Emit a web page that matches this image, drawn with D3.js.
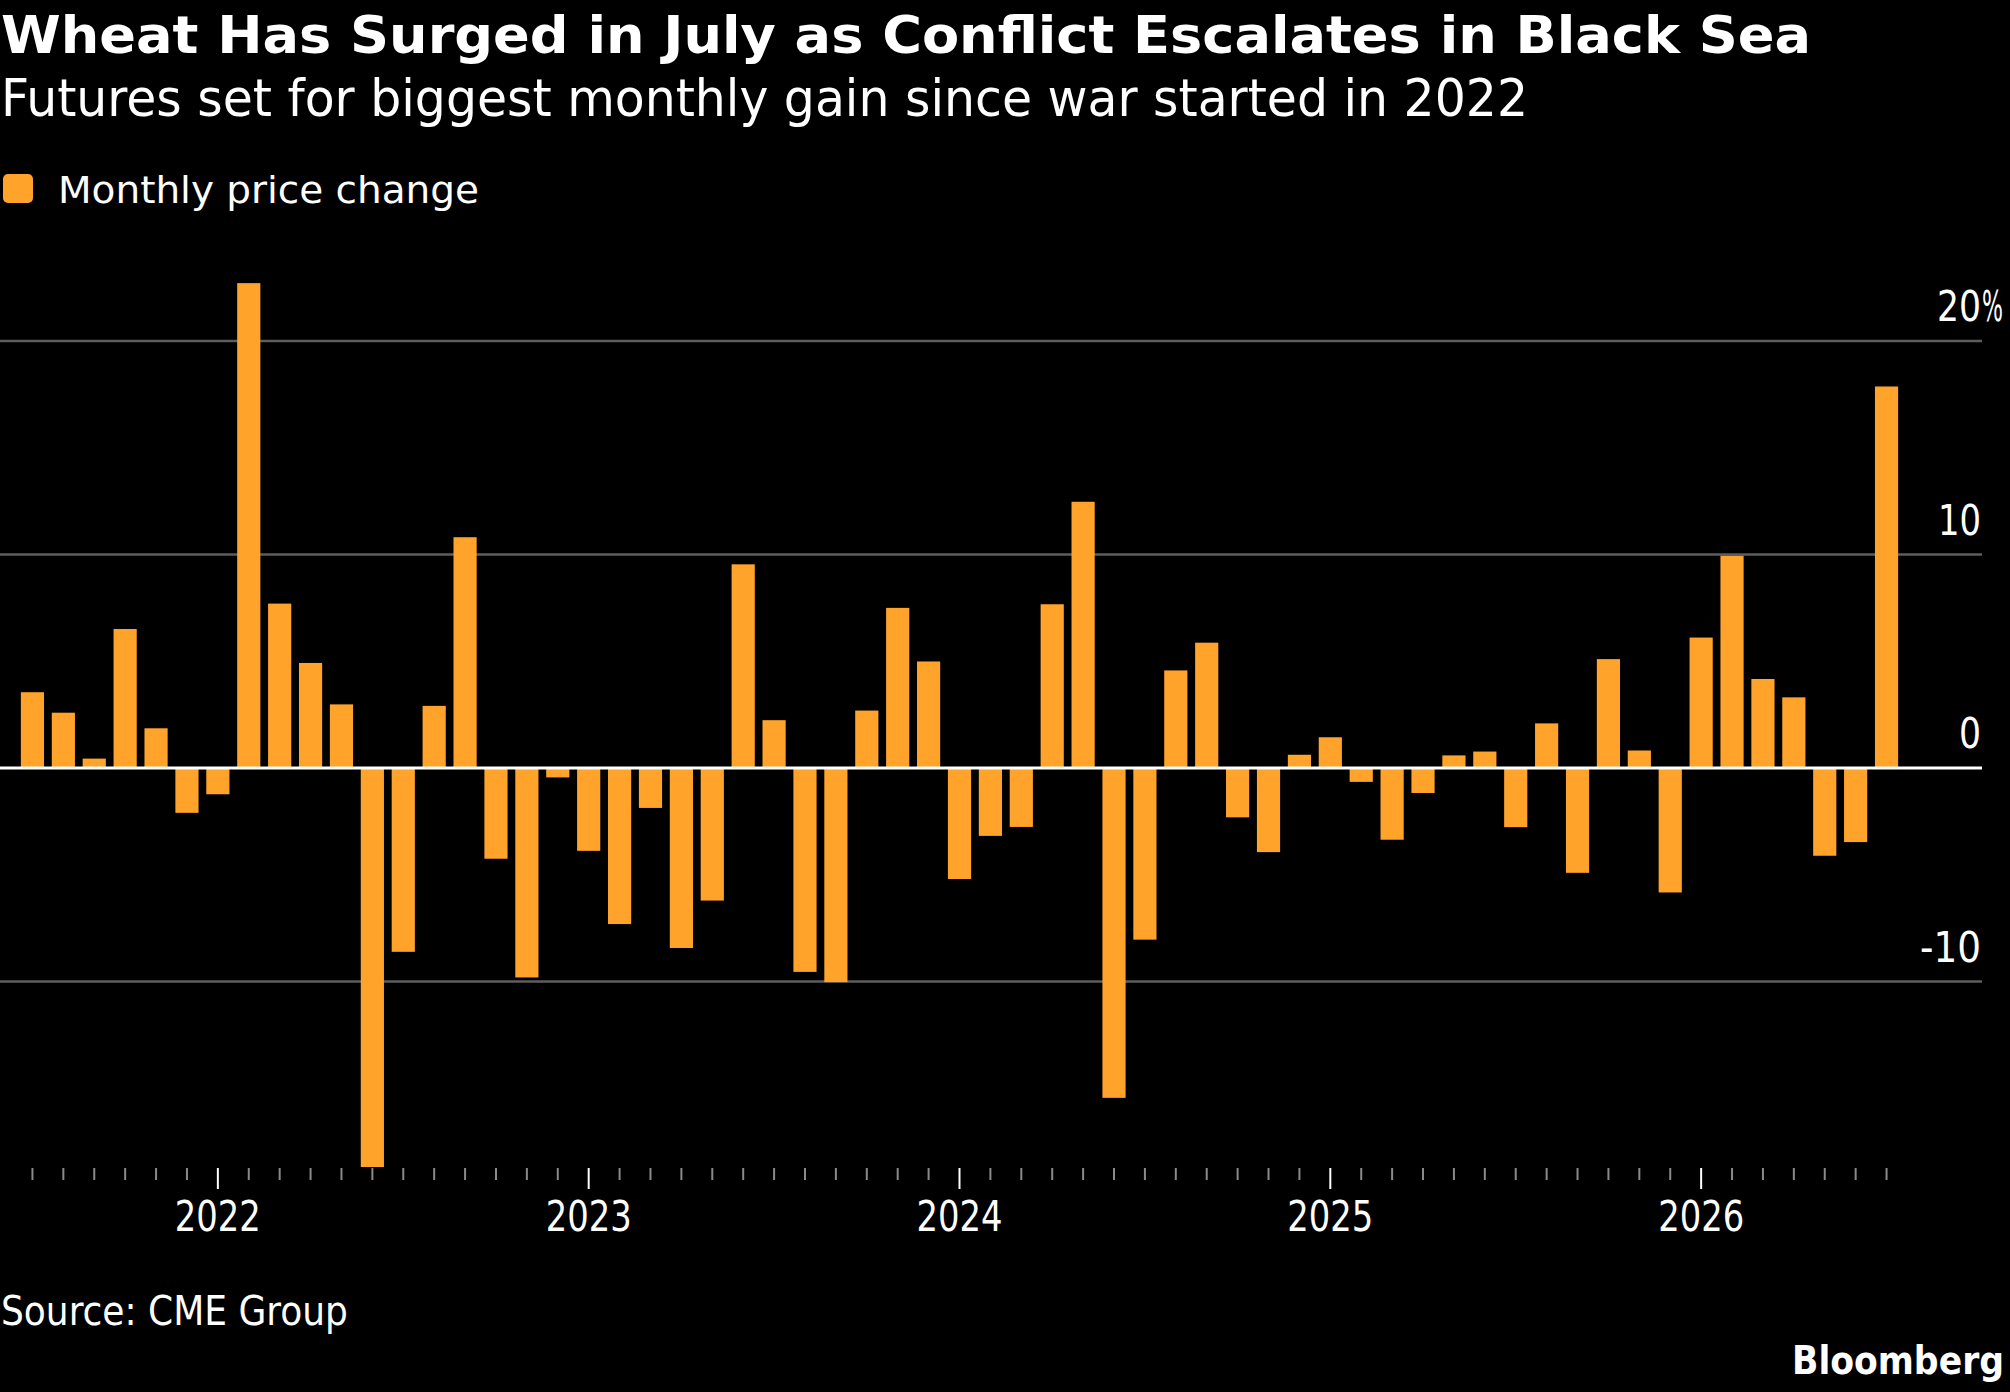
<!DOCTYPE html>
<html>
<head>
<meta charset="utf-8">
<script src="https://cdn.jsdelivr.net/npm/d3@7"></script>
<style>
  html, body { margin: 0; padding: 0; background: #000; }
  svg { display: block; }
  text { font-family: 'DejaVu Sans Condensed', 'DejaVu Sans', sans-serif; fill: #fff; }
</style>
</head>
<body>
<div class="container"></div>
<script>
const months = d3.timeMonth.range(new Date(2021, 6, 1), new Date(2026, 7, 1))

const monthlyChange = [
  3.55, 2.59, 0.44, 6.51, 1.86, -2.10,
  -1.23, 22.71, 7.70, 4.92, 2.98, -18.69, -8.61, 2.91, 10.81, -4.25, -9.81, -0.44,
  -3.88, -7.31, -1.87, -8.43, -6.21, 9.54, 2.24, -9.55, -10.03, 2.69, 7.50, 4.99,
  -5.20, -3.18, -2.76, 7.67, 12.47, -15.45, -8.04, 4.57, 5.87, -2.31, -3.94, 0.62,
  1.44, -0.65, -3.36, -1.17, 0.59, 0.77, -2.77, 2.09, -4.91, 5.10, 0.82, -5.83,
  6.11, 9.94, 4.17, 3.31, -4.11, -3.47, 17.87
]

const yTicks = [-10, 0, 10, 20]
const yearLabels = ['2022', '2023', '2024', '2025', '2026']

const title = 'Wheat Has Surged in July as Conflict Escalates in Black Sea'
const subtitle = 'Futures set for biggest monthly gain since war started in 2022'
const legendLabel = 'Monthly price change'
const source = 'Source: CME Group'

const width = 2010
const height = 1392
const orange = '#ffa32a'
const light = 200

const data = months.map((m, i) => ({ month: m, value: monthlyChange[i] }))

const svg = d3.select('.container').append('svg')
  .attr('width', width)
  .attr('height', height)

svg.append('rect').attr('width', width).attr('height', height).attr('fill', '#000')

// squeeze / stretch a text to the width it has in the original
const fit = (sel, target) => {
  const node = sel.node()
  const w = node.getComputedTextLength()
  if (Math.abs(w - target) / target > 0.01) {
    sel.attr('textLength', target).attr('lengthAdjust', 'spacingAndGlyphs')
  }
  return sel
}

// header
fit(svg.append('text')
  .attr('x', 1).attr('y', 53)
  .attr('font-size', 52).attr('font-weight', 'bold')
  .text(title), 1810)

fit(svg.append('text')
  .attr('x', 1).attr('y', 116)
  .attr('font-size', 51).attr('font-weight', light)
  .text(subtitle), 1527)

svg.append('rect')
  .attr('x', 3).attr('y', 174)
  .attr('width', 30).attr('height', 29)
  .attr('rx', 5)
  .attr('fill', orange)

fit(svg.append('text')
  .attr('x', 58).attr('y', 203)
  .attr('font-size', 38)
  .attr('font-weight', light)
  .text(legendLabel), 421)

// scales
const x = d3.scaleBand()
  .domain(months)
  .range([17, 1902])
  .paddingInner(0.25)
  .paddingOuter(0.125)

const y = d3.scaleLinear()
  .domain([-20, 20])
  .range([1195, 341])

const gridRight = 1982

// grid
const grid = svg.append('g').attr('class', 'grid')
grid.selectAll('line')
  .data(yTicks.filter(d => d !== 0))
  .enter().append('line')
  .attr('x1', 0).attr('x2', gridRight)
  .attr('y1', d => y(d)).attr('y2', d => y(d))
  .attr('stroke', '#5e5e5e')
  .attr('stroke-width', 2.5)

// bars
svg.append('g').attr('class', 'bars')
  .selectAll('rect')
  .data(data)
  .enter().append('rect')
  .attr('x', d => x(d.month))
  .attr('width', x.bandwidth())
  .attr('y', d => y(Math.max(0, d.value)))
  .attr('height', d => Math.abs(y(d.value) - y(0)))
  .attr('fill', orange)

// zero line on top of bars
svg.append('line')
  .attr('x1', 0).attr('x2', gridRight)
  .attr('y1', y(0)).attr('y2', y(0))
  .attr('stroke', '#fff')
  .attr('stroke-width', 3)

// y labels, right aligned above their lines
const labelWidth = { '-10': 61, '0': 22, '10': 43, '20': 44 }
const yLabels = svg.append('g').attr('class', 'y labels')
yLabels.selectAll('text')
  .data(yTicks)
  .enter().append('text')
  .attr('x', gridRight - 1)
  .attr('y', d => y(d) - 20)
  .attr('text-anchor', 'end')
  .attr('font-size', 42)
  .attr('font-weight', light)
  .text(d => d)
  .each(function(d) { fit(d3.select(this), labelWidth[d]) })

// the % sign hangs past the line end, narrowed so it stays on the page
const pct = yLabels.append('text')
  .attr('font-size', 42)
  .attr('font-weight', light)
  .text('%')
const pctScale = 21 / pct.node().getComputedTextLength()
pct.attr('transform', `translate(${ gridRight }, ${ y(20) - 20 }) scale(${ pctScale }, 1)`)

// x axis: a tick for every month, taller ticks with a label at january
const axisTop = 1168
const minorAxis = d3.axisBottom(x)
  .tickValues(months.filter(m => m.getMonth() !== 0))
  .tickSize(12)
  .tickFormat('')

const majorMonths = months.filter(m => m.getMonth() === 0)
const majorAxis = d3.axisBottom(x)
  .tickValues(majorMonths)
  .tickSize(21)
  .tickFormat(m => yearLabels[majorMonths.indexOf(m)])

const gMinor = svg.append('g')
  .attr('transform', `translate(0, ${ axisTop })`)
  .call(minorAxis)
gMinor.select('.domain').remove()
gMinor.selectAll('.tick line').attr('stroke', '#8a8a8a').attr('stroke-width', 2)

const gMajor = svg.append('g')
  .attr('transform', `translate(0, ${ axisTop })`)
  .call(majorAxis)
gMajor.select('.domain').remove()
gMajor.selectAll('.tick line').attr('stroke', '#fff').attr('stroke-width', 2)
gMajor.selectAll('.tick text')
  .attr('font-family', null)
  .attr('font-size', 42)
  .attr('font-weight', light)
  .attr('fill', '#fff')
  .attr('dy', null)
  .attr('y', 63)
  .each(function() { fit(d3.select(this), 86) })

// footer
fit(svg.append('text')
  .attr('x', 1).attr('y', 1325)
  .attr('font-size', 40)
  .attr('font-weight', light)
  .text(source), 345)

fit(svg.append('text')
  .attr('x', 2004).attr('y', 1374)
  .attr('text-anchor', 'end')
  .attr('font-size', 39)
  .attr('font-weight', 'bold')
  .text('Bloomberg'), 212)
</script>
</body>
</html>
